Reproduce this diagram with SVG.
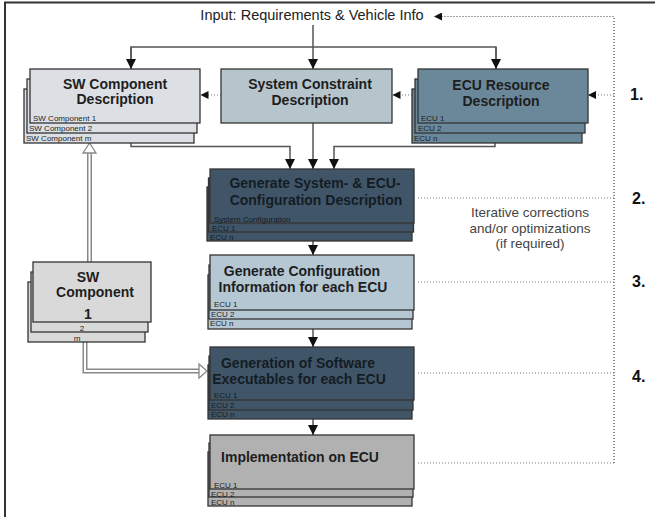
<svg xmlns="http://www.w3.org/2000/svg" width="655" height="517" viewBox="0 0 655 517">
  <style>
    .box { stroke: #333; stroke-width: 1.3; }
    .title { font-family: "Liberation Sans", Arial, sans-serif; font-weight: bold; font-size: 14px; fill: #1e1e1e; text-anchor: middle; }
    .dark .title { fill: #141c24; }
    .lbl { font-family: "Liberation Sans", Arial, sans-serif; font-size: 8px; fill: #1e1e1e; }
    .dark .lbl { fill: #141c24; }
    .step { font-family: "Liberation Sans", Arial, sans-serif; font-weight: bold; font-size: 16px; fill: #111; }
    .note { font-family: "Liberation Sans", Arial, sans-serif; font-size: 13.5px; fill: #444; text-anchor: middle; }
    .solid { fill: none; stroke: #555; stroke-width: 1.5; }
    .dot { fill: none; stroke: #777; stroke-width: 1.2; stroke-dasharray: 1 2; }
    .dotdark { fill: none; stroke: #444; stroke-width: 1.2; stroke-dasharray: 1 2; }
    .hollowOut { fill: none; stroke: #888; stroke-width: 5; }
    .hollowIn { fill: none; stroke: #fff; stroke-width: 2; }
    .hollowHead { fill: #fff; stroke: #888; stroke-width: 1.3; }
  </style>
  <defs>
    <marker id="arr" markerUnits="userSpaceOnUse" markerWidth="10" markerHeight="10" refX="10" refY="5" orient="auto">
      <path d="M0,0 L10,5 L0,10 z" fill="#111"/>
    </marker>
    <marker id="arrSmall" markerUnits="userSpaceOnUse" markerWidth="8" markerHeight="8" refX="8" refY="4" orient="auto">
      <path d="M0,0 L8,4 L0,8 z" fill="#111"/>
    </marker>
  </defs>

  <rect width="655" height="517" fill="#fff"/>

  <!-- frame -->
  <path d="M5,517 V2.5 H655" fill="none" stroke="#333" stroke-width="2"/>

  <text x="312" y="20" font-family="Liberation Sans, Arial, sans-serif" font-size="14.5" fill="#222" text-anchor="middle">Input: Requirements &amp; Vehicle Info</text>

  <!-- connectors -->
  <g id="connectors">
    <path class="solid" d="M313,25 V69" marker-end="url(#arr)"/>
    <path class="solid" d="M131,69 V47 H496 V69" stroke="#666"/>
    <path class="solid" d="M131,47 V69" marker-end="url(#arr)"/>
    <path class="solid" d="M496,47 V69" marker-end="url(#arr)"/>

    <path class="solid" d="M131,143 V146.5 H290 V169" stroke="#777" marker-end="url(#arr)"/>
    <path class="solid" d="M313,123 V169" marker-end="url(#arr)"/>
    <path class="solid" d="M495,143 V146.5 H334 V169" stroke="#777" marker-end="url(#arr)"/>

    <path class="solid" d="M313,241 V255" marker-end="url(#arr)"/>
    <path class="solid" d="M313,329 V347" marker-end="url(#arr)"/>
    <path class="solid" d="M313,419 V435" marker-end="url(#arr)"/>

    <!-- feedback loop -->
    <path class="dotdark" d="M614,463 V16.5 H434" marker-end="url(#arrSmall)"/>
    <path class="dot" d="M614,95 H588" marker-end="url(#arrSmall)"/>
    <path class="dot" d="M412,95 H392.5" marker-end="url(#arrSmall)"/>
    <path class="dot" d="M221,95 H200.5" marker-end="url(#arrSmall)"/>
    <path class="dot" d="M418,198 H614"/>
    <path class="dot" d="M418,282 H614"/>
    <path class="dot" d="M418,373 H614"/>
    <path class="dot" d="M418,463 H614"/>

    <!-- hollow arrows from SW Component -->
    <path class="hollowOut" d="M89.5,262 V152"/>
    <path class="hollowIn" d="M89.5,262 V152"/>
    <polygon class="hollowHead" points="89.5,143 83,153 96,153"/>
    <path class="hollowOut" d="M85,342 V371 H200"/>
    <path class="hollowIn" d="M85,342 V371 H200"/>
    <polygon class="hollowHead" points="199,364 207,371 199,378"/>
  </g>

  <!-- SW Component Description -->
  <g id="sw-component-description">
    <rect class="box" x="24" y="89" width="170" height="54" fill="#dce0e5"/>
    <rect class="box" x="27" y="79" width="170" height="54" fill="#dce0e5"/>
    <rect class="box" x="30" y="69" width="170" height="54" fill="#dce0e5"/>
    <text class="title" x="115" y="89">SW Component</text>
    <text class="title" x="115" y="104">Description</text>
    <text class="lbl" x="33" y="121">SW Component 1</text>
    <text class="lbl" x="29" y="130.5">SW Component 2</text>
    <text class="lbl" x="26" y="140.5">SW Component m</text>
  </g>

  <!-- System Constraint Description -->
  <g id="system-constraint-description">
    <rect class="box" x="221" y="69" width="171" height="54" fill="#b6c4cb"/>
    <text class="title" x="310" y="89">System Constraint</text>
    <text class="title" x="310" y="105">Description</text>
  </g>

  <!-- ECU Resource Description -->
  <g id="ecu-resource-description">
    <rect class="box" x="412" y="89" width="170" height="54" fill="#6b889a"/>
    <rect class="box" x="415" y="79" width="170" height="54" fill="#6b889a"/>
    <rect class="box" x="418" y="69" width="170" height="54" fill="#6b889a"/>
    <text class="title" x="501" y="90" fill="#1a2630">ECU Resource</text>
    <text class="title" x="501" y="106">Description</text>
    <text class="lbl" x="421" y="121">ECU 1</text>
    <text class="lbl" x="418" y="130.5">ECU 2</text>
    <text class="lbl" x="414" y="140.5">ECU n</text>
  </g>

  <!-- Step 2 -->
  <g id="generate-system-config" class="dark">
    <rect class="box" x="207" y="187" width="205" height="54" fill="#405668"/>
    <rect class="box" x="208.5" y="178" width="205" height="54" fill="#405668"/>
    <rect class="box" x="210" y="169" width="204" height="54" fill="#405668"/>
    <text class="title" x="315" y="188">Generate System- &amp; ECU-</text>
    <text class="title" x="316" y="205">Configuration Description</text>
    <text class="lbl" x="214" y="221.5">System Configuration</text>
    <text class="lbl" x="212" y="231">ECU 1</text>
    <text class="lbl" x="210" y="240">ECU n</text>
  </g>

  <!-- Step 3 -->
  <g id="generate-config-info">
    <rect class="box" x="208" y="275" width="204" height="54" fill="#b4c7d3"/>
    <rect class="box" x="209" y="265" width="204" height="54" fill="#b4c7d3"/>
    <rect class="box" x="210" y="255" width="204" height="55" fill="#b4c7d3"/>
    <text class="title" x="302" y="276">Generate Configuration</text>
    <text class="title" x="303" y="292">Information for each ECU</text>
    <text class="lbl" x="214" y="307">ECU 1</text>
    <text class="lbl" x="211" y="316.5">ECU 2</text>
    <text class="lbl" x="210" y="326">ECU n</text>
  </g>

  <!-- Step 4 -->
  <g id="generate-executables" class="dark">
    <rect class="box" x="208" y="365" width="204" height="54" fill="#405668"/>
    <rect class="box" x="209" y="356" width="204" height="54" fill="#405668"/>
    <rect class="box" x="210" y="347" width="204" height="53" fill="#405668"/>
    <text class="title" x="298" y="368">Generation of Software</text>
    <text class="title" x="299" y="384">Executables for each ECU</text>
    <text class="lbl" x="214" y="398">ECU 1</text>
    <text class="lbl" x="211" y="407.5">ECU 2</text>
    <text class="lbl" x="211" y="416.5">ECU n</text>
  </g>

  <!-- Implementation -->
  <g id="implementation">
    <rect class="box" x="208" y="452" width="204" height="54" fill="#b1b1b1"/>
    <rect class="box" x="209" y="443" width="204" height="54" fill="#b1b1b1"/>
    <rect class="box" x="210" y="435" width="204" height="54" fill="#b1b1b1"/>
    <text class="title" x="300" y="462">Implementation on ECU</text>
    <text class="lbl" x="214" y="487.5">ECU 1</text>
    <text class="lbl" x="211" y="496.5">ECU 2</text>
    <text class="lbl" x="211" y="505">ECU n</text>
  </g>

  <!-- SW Component stack -->
  <g id="sw-component">
    <rect class="box" x="28" y="282" width="117" height="60" fill="#d9d9d9"/>
    <rect class="box" x="31" y="272" width="117" height="60" fill="#d9d9d9"/>
    <rect class="box" x="33" y="262" width="118" height="60" fill="#d9d9d9"/>
    <text class="title" x="88" y="282">SW</text>
    <text class="title" x="95" y="297">Component</text>
    <text class="title" x="88" y="319">1</text>
    <text class="lbl" x="82" y="331" text-anchor="middle">2</text>
    <text class="lbl" x="77" y="340.5" text-anchor="middle">m</text>
  </g>

  <!-- step numbers and note -->
  <g id="steps">
    <text class="step" x="630" y="100">1.</text>
    <text class="step" x="632" y="204">2.</text>
    <text class="step" x="632" y="287">3.</text>
    <text class="step" x="632" y="382">4.</text>
  </g>
  <g id="note">
    <text class="note" x="530" y="217">Iterative corrections</text>
    <text class="note" x="530" y="233">and/or optimizations</text>
    <text class="note" x="530" y="248">(if required)</text>
  </g>
</svg>
